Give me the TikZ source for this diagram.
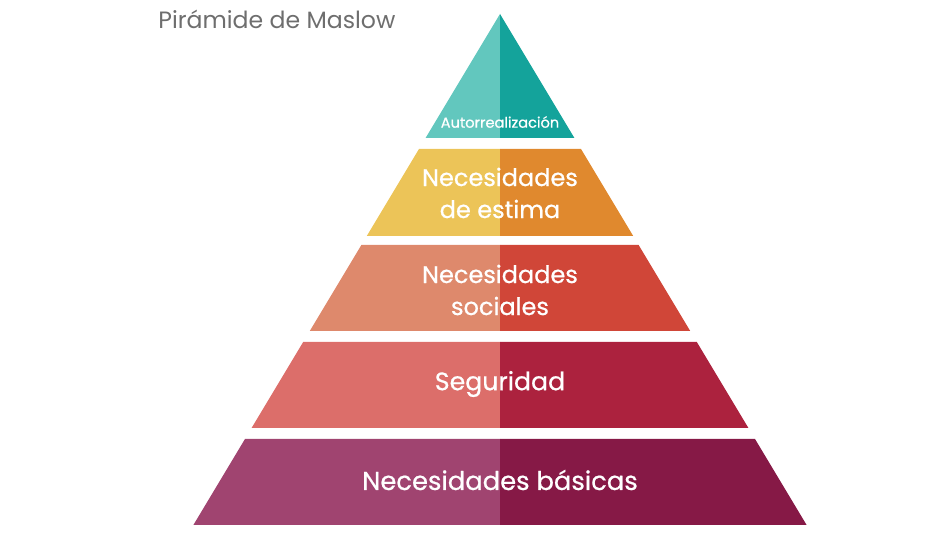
\documentclass[tikz,border=0pt]{standalone}
\usepackage{fontspec}
\setmainfont{Poppins}
\newfontfamily\lblfont{Poppins}[FakeBold=0.7]

% level colours (left half / right half)
\definecolor{autoL}{HTML}{62C7BE}
\definecolor{autoR}{HTML}{14A39B}
\definecolor{estiL}{HTML}{ECC458}
\definecolor{estiR}{HTML}{E0892E}
\definecolor{sociL}{HTML}{DE896C}
\definecolor{sociR}{HTML}{D04638}
\definecolor{seguL}{HTML}{DC6E6A}
\definecolor{seguR}{HTML}{AC223E}
\definecolor{basiL}{HTML}{A04470}
\definecolor{basiR}{HTML}{861946}
\definecolor{titlegray}{HTML}{6E6E6E}

\begin{document}
\begin{tikzpicture}[x=0.5pt, y=0.5pt,
  lvltext/.style={text=white, align=center, inner sep=0pt,
    font=\lblfont\fontsize{12}{16}\selectfont}]
  %================= Parameters (edit these) =================
  \def\H{534}      % picture height (px)
  \def\xc{500}     % axis of the pyramid
  \def\ytip{14}    % apex, measured from the top
  \def\slope{0.6}  % half width per unit of height
  \useasboundingbox (0,0) rectangle (950,\H);

  %================= Levels (top/bottom measured from the top) =================
  \foreach \yt/\yb/\cl/\cr in {14/138/autoL/autoR, 149/236/estiL/estiR,
      245/331/sociL/sociR, 342/428/seguL/seguR, 439/525/basiL/basiR}{
    \pgfmathsetmacro{\wt}{\slope*(\yt-\ytip)}
    \pgfmathsetmacro{\wb}{\slope*(\yb-\ytip)}
    % left half, then right half
    \fill[\cl] (\xc-\wt,\H-\yt) -- (\xc,\H-\yt) -- (\xc,\H-\yb) -- (\xc-\wb,\H-\yb) -- cycle;
    \fill[\cr] (\xc,\H-\yt) -- (\xc+\wt,\H-\yt) -- (\xc+\wb,\H-\yb) -- (\xc,\H-\yb) -- cycle;
  }

  %================= Labels =================
  \node[text=titlegray, anchor=west, inner sep=0pt,
    font=\fontsize{11.8}{14}\selectfont] (title) at (158,\H-19) {Pirámide de Maslow};
  \node[lvltext, font=\lblfont\fontsize{7.3}{9}\selectfont] (autorr) at (\xc,\H-122) {Autorrealización};
  \node[lvltext] (estima) at (\xc,\H-193) {Necesidades\\de estima};
  \node[lvltext] (social) at (\xc,\H-290) {Necesidades\\sociales};
  \node[lvltext, font=\lblfont\fontsize{12.6}{16}\selectfont] (segur) at (\xc,\H-384) {Seguridad};
  \node[lvltext, font=\lblfont\fontsize{12.9}{16}\selectfont] (basic) at (\xc,\H-480) {Necesidades básicas};
\end{tikzpicture}
\end{document}
